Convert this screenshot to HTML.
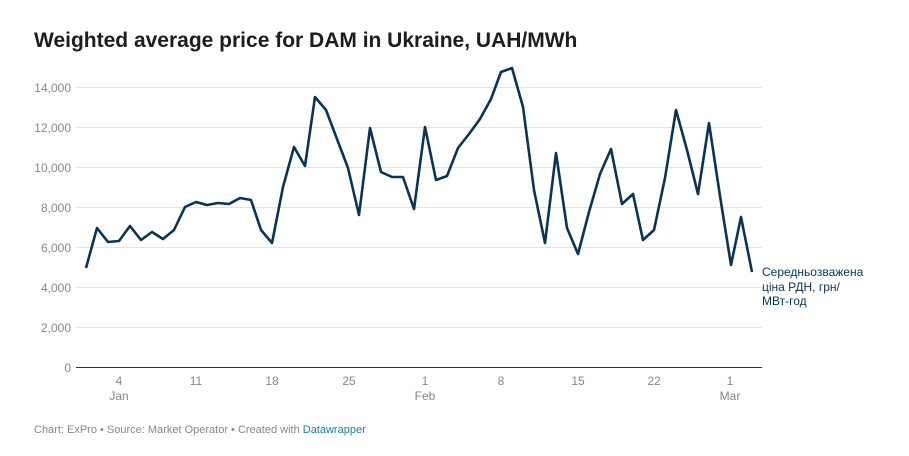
<!DOCTYPE html>
<html><head><meta charset="utf-8"><style>
body{margin:0;background:#fff;width:909px;height:451px;overflow:hidden;font-family:"Liberation Sans",Arial,sans-serif}
</style></head><body>
<svg width="909" height="451" xmlns="http://www.w3.org/2000/svg" font-family="Liberation Sans, Arial, sans-serif">
<text x="34" y="47" font-size="21" font-weight="bold" fill="#1d1d1d">Weighted average price for DAM in Ukraine, UAH/MWh</text>
<g stroke="#e3e3e3" stroke-width="1">
<line x1="76" x2="762" y1="87.5" y2="87.5"/><line x1="76" x2="762" y1="127.5" y2="127.5"/><line x1="76" x2="762" y1="167.5" y2="167.5"/><line x1="76" x2="762" y1="207.5" y2="207.5"/><line x1="76" x2="762" y1="247.5" y2="247.5"/><line x1="76" x2="762" y1="287.5" y2="287.5"/><line x1="76" x2="762" y1="327.5" y2="327.5"/>
</g>
<line x1="76" x2="762" y1="367.5" y2="367.5" stroke="#333" stroke-width="1"/>
<g font-size="12" fill="#888" text-anchor="end">
<text x="71" y="92">14,000</text><text x="71" y="132">12,000</text><text x="71" y="172">10,000</text><text x="71" y="212">8,000</text><text x="71" y="252">6,000</text><text x="71" y="292">4,000</text><text x="71" y="332">2,000</text><text x="71" y="372">0</text>
</g>
<g font-size="12" fill="#888" text-anchor="middle">
<text x="119" y="385">4</text><text x="119" y="400">Jan</text>
<text x="196" y="385">11</text><text x="272" y="385">18</text><text x="349" y="385">25</text>
<text x="425" y="385">1</text><text x="425" y="400">Feb</text>
<text x="501" y="385">8</text><text x="578" y="385">15</text><text x="654" y="385">22</text>
<text x="730" y="385">1</text><text x="730" y="400">Mar</text>
</g>
<polyline fill="none" stroke="#0b3354" stroke-width="2.6" stroke-linejoin="round" points="86,268 97,228 108,242 119,241 130,226 141,240 152,232 163,239 174,230 185,207 196,202 207,205 218,203 229,204 240,198 251,200 261,230 272,243 283,187 294,147 305,166 315,97 326,110 337,139 348,168 359,215 370,128 381,172 392,177 403,177 414,209 425,127 436,180 447,176 458,148 469,134 480,119 491,99 501,72 512,68 523,107 534,190 545,243 556,153 567,228 578,254 589,212 600,174 611,149 622,204 633,194 643,240 654,230 665,178 676,110 687,150 698,194 709,123 720,196 731,265 741,217 752,272"/>
<g font-size="12" fill="#0b3354">
<text x="762" y="276">Середньозважена</text><text x="762" y="291">ціна РДН, грн/</text><text x="762" y="305">МВт-год</text>
</g>
<text x="34" y="433" font-size="11" fill="#888">Chart: ExPro • Source: Market Operator • Created with <tspan fill="#1d81a2">Datawrapper</tspan></text>
</svg>
</body></html>
